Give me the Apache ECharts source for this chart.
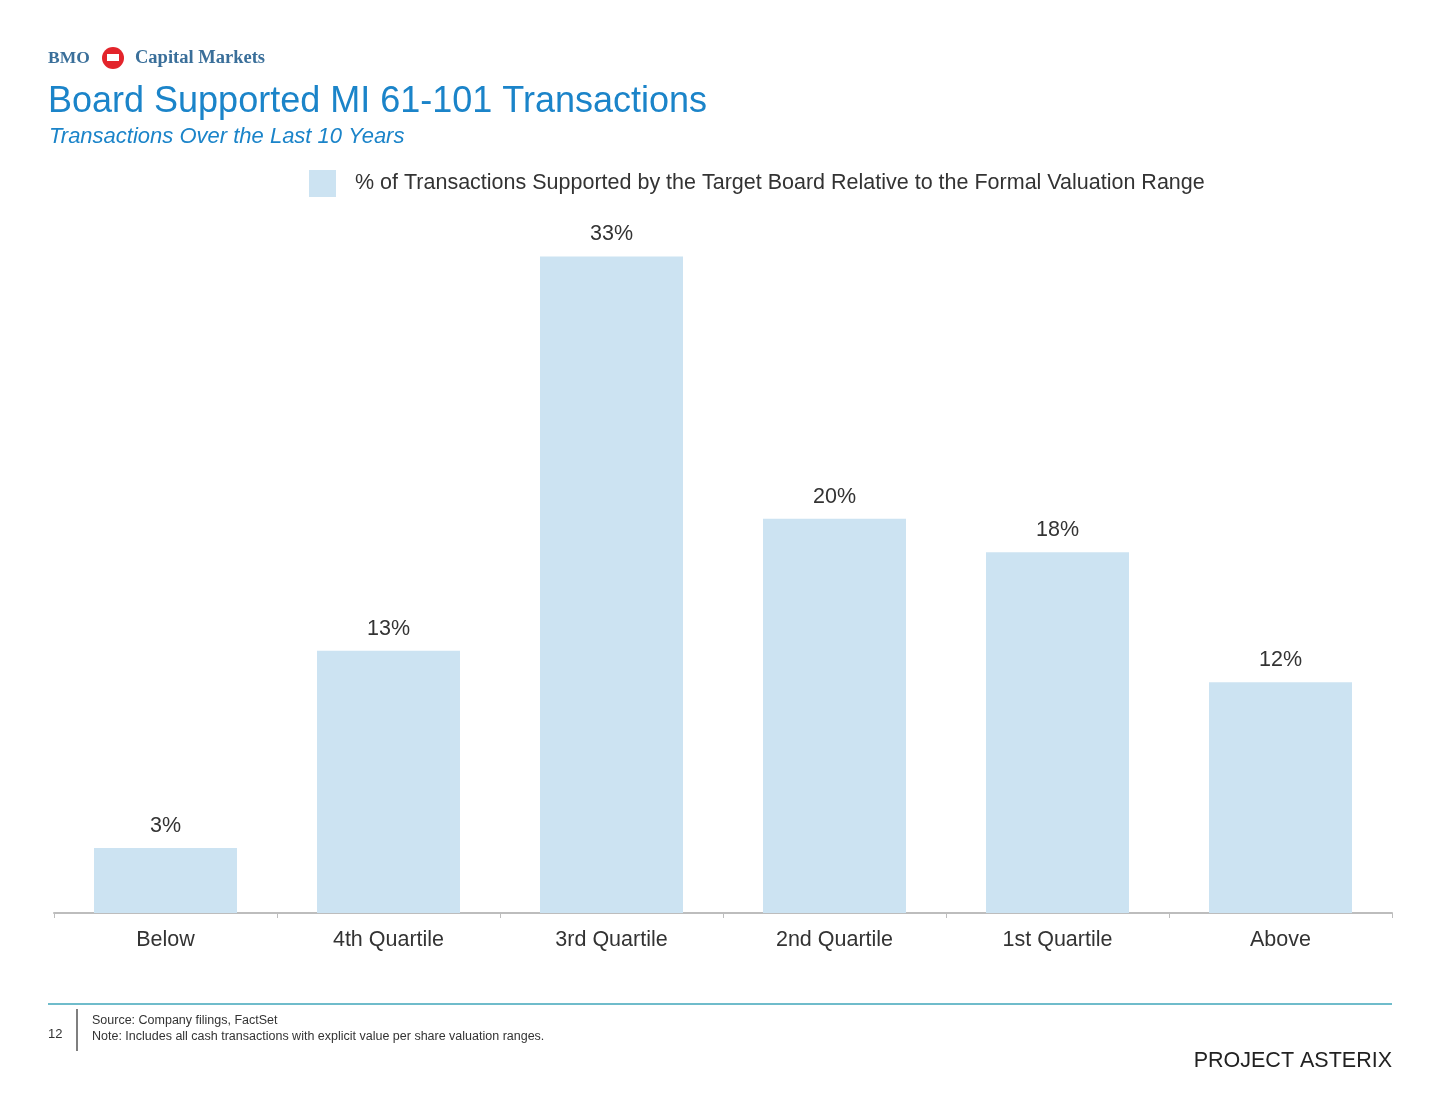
<!DOCTYPE html>
<html>
<head>
<meta charset="utf-8">
<style>
html,body{margin:0;padding:0;background:#fff;}
#chart{width:1439px;height:1112px;}
</style>
<script src="https://cdn.jsdelivr.net/npm/echarts@6/dist/echarts.min.js"></script>
</head>
<body>
<div id="chart"></div>
<script>
const categories = ['Below', '4th Quartile', '3rd Quartile', '2nd Quartile', '1st Quartile', 'Above'];
const shareValues = [3.3, 13.3, 33.3, 20.0, 18.3, 11.7];
const seriesName = '% of Transactions Supported by the Target Board Relative to the Formal Valuation Range';

const chart = echarts.init(document.getElementById('chart'), null, {renderer: 'canvas'});
const FONT = 'Liberation Sans, Arial, sans-serif';
const SERIF = 'Liberation Serif, Times New Roman, serif';

chart.setOption({
  backgroundColor: '#ffffff',
  animation: false,
  legend: {
    left: 304, top: 165,
    itemWidth: 27, itemHeight: 27, itemGap: 10,
    icon: 'rect',
    textStyle: {fontFamily: FONT, fontSize: 21.5, color: '#333333', padding: [3, 0, 0, 14]},
    data: [seriesName]
  },
  grid: {left: 54, right: 47, top: 223, bottom: 199, containLabel: false},
  xAxis: {
    type: 'category',
    data: categories,
    boundaryGap: true,
    axisLine: {lineStyle: {color: '#bdbdbd', width: 2}},
    axisTick: {show: true, length: 5, lineStyle: {color: '#bdbdbd', width: 1}},
    axisLabel: {fontFamily: FONT, fontSize: 21.5, color: '#333333', margin: 16}
  },
  yAxis: {
    type: 'value', min: 0, max: 35,
    show: false,
    splitLine: {show: false}
  },
  series: [{
    name: seriesName,
    type: 'bar',
    data: shareValues,
    barWidth: 143,
    itemStyle: {color: '#cce3f2'},
    label: {
      show: true, position: 'top', distance: 11,
      fontFamily: FONT, fontSize: 21.5, color: '#333333',
      formatter: p => Math.round(p.value) + '%'
    }
  }],
  graphic: [
    {type: 'text', left: 48, top: 49, style: {text: 'BMO', font: 'bold 17.5px ' + SERIF, fill: '#3a6f9a'}},
    {type: 'circle', shape: {cx: 113, cy: 58, r: 11}, style: {fill: '#e3242b'}},
    {type: 'rect', shape: {x: 107, y: 54, width: 12, height: 7}, style: {fill: '#ffffff'}},
    {type: 'text', left: 135, top: 49, style: {text: 'Capital Markets', font: 'bold 18.5px ' + SERIF, fill: '#3a6f9a'}},
    {type: 'text', left: 48, top: 84, style: {text: 'Board Supported MI 61-101 Transactions', font: '36px ' + FONT, fill: '#1b84c9'}},
    {type: 'text', left: 49, top: 126, style: {text: 'Transactions Over the Last 10 Years', font: 'italic 22px ' + FONT, fill: '#1b84c9'}},
    {type: 'line', shape: {x1: 48, y1: 1004, x2: 1392, y2: 1004}, style: {stroke: '#6fbccb', lineWidth: 2}},
    {type: 'line', shape: {x1: 77, y1: 1009, x2: 77, y2: 1051}, style: {stroke: '#555555', lineWidth: 1.5}},
    {type: 'text', left: 48, top: 1028, style: {text: '12', font: '13px ' + FONT, fill: '#333333'}},
    {type: 'text', left: 92, top: 1014, style: {text: 'Source: Company filings, FactSet', font: '12.5px ' + FONT, fill: '#333333'}},
    {type: 'text', left: 92, top: 1030, style: {text: 'Note: Includes all cash transactions with explicit value per share valuation ranges.', font: '12.5px ' + FONT, fill: '#333333'}},
    {type: 'text', right: 47, top: 1050, style: {text: 'PROJECT ASTERIX', font: '21.5px ' + FONT, fill: '#222222'}}
  ]
});
</script>
</body>
</html>
